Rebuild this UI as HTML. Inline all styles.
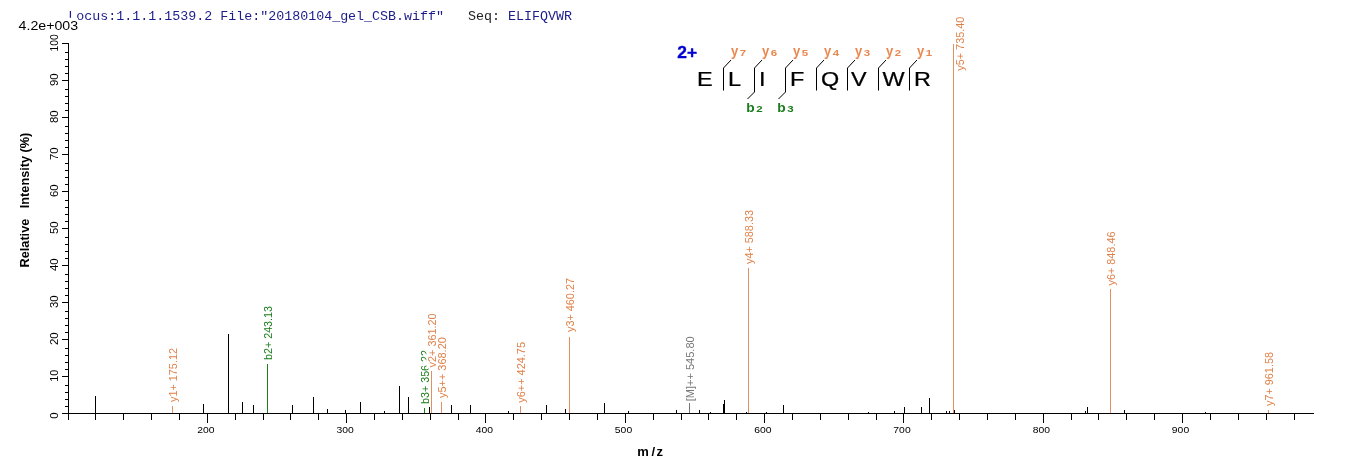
<!DOCTYPE html>
<html><head><meta charset="utf-8"><title>Spectrum</title>
<style>
html,body{margin:0;padding:0;background:#fff;}
body{width:1362px;height:473px;overflow:hidden;}
svg{display:block;}
.sans{font-family:"Liberation Sans",sans-serif;}
.mono{font-family:"Liberation Mono",monospace;font-size:13.33px;}
</style></head><body>
<svg width="1362" height="473" viewBox="0 0 1362 473">
<rect width="1362" height="473" fill="#fff"/>
<text x="68.2" y="19.8" class="mono" fill="#1c1c8c" xml:space="preserve" style="white-space:pre">Locus:1.1.1.1539.2 File:"20180104_gel_CSB.wiff"   <tspan fill="#222">Seq: </tspan>ELIFQVWR</text>
<rect x="14" y="17.8" width="64" height="14" fill="#fff"/>
<text x="18.6" y="30" class="sans" font-size="12" textLength="59.5" lengthAdjust="spacingAndGlyphs">4.2e+003</text>
<g shape-rendering="crispEdges" stroke="#000" stroke-width="1" fill="none">
<path d="M68.5 43 V414"/>
<path d="M62 413.5 H1314"/>
<path d="M62 413.5 H68"/>
<path d="M62 376.5 H68"/>
<path d="M65 385.5 H68"/>
<path d="M65 392.5 H68"/>
<path d="M65 399.5 H68"/>
<path d="M65 406.5 H68"/>
<path d="M62 339.5 H68"/>
<path d="M65 348.5 H68"/>
<path d="M65 355.5 H68"/>
<path d="M65 362.5 H68"/>
<path d="M65 369.5 H68"/>
<path d="M62 302.5 H68"/>
<path d="M65 311.5 H68"/>
<path d="M65 318.5 H68"/>
<path d="M65 325.5 H68"/>
<path d="M65 332.5 H68"/>
<path d="M62 265.5 H68"/>
<path d="M65 274.5 H68"/>
<path d="M65 281.5 H68"/>
<path d="M65 288.5 H68"/>
<path d="M65 295.5 H68"/>
<path d="M62 228.5 H68"/>
<path d="M65 237.5 H68"/>
<path d="M65 244.5 H68"/>
<path d="M65 251.5 H68"/>
<path d="M65 258.5 H68"/>
<path d="M62 191.5 H68"/>
<path d="M65 200.5 H68"/>
<path d="M65 207.5 H68"/>
<path d="M65 214.5 H68"/>
<path d="M65 221.5 H68"/>
<path d="M62 154.5 H68"/>
<path d="M65 163.5 H68"/>
<path d="M65 170.5 H68"/>
<path d="M65 177.5 H68"/>
<path d="M65 184.5 H68"/>
<path d="M62 117.5 H68"/>
<path d="M65 126.5 H68"/>
<path d="M65 133.5 H68"/>
<path d="M65 140.5 H68"/>
<path d="M65 147.5 H68"/>
<path d="M62 80.5 H68"/>
<path d="M65 89.5 H68"/>
<path d="M65 96.5 H68"/>
<path d="M65 103.5 H68"/>
<path d="M65 110.5 H68"/>
<path d="M62 43.5 H68"/>
<path d="M65 52.5 H68"/>
<path d="M65 59.5 H68"/>
<path d="M65 66.5 H68"/>
<path d="M65 73.5 H68"/>
<path d="M68.5 413 V420"/>
<path d="M95.5 413 V420"/>
<path d="M123.5 413 V420"/>
<path d="M151.5 413 V420"/>
<path d="M179.5 413 V420"/>
<path d="M207.5 413 V423"/>
<path d="M235.5 413 V420"/>
<path d="M263.5 413 V420"/>
<path d="M290.5 413 V420"/>
<path d="M318.5 413 V420"/>
<path d="M346.5 413 V423"/>
<path d="M374.5 413 V420"/>
<path d="M402.5 413 V420"/>
<path d="M430.5 413 V420"/>
<path d="M458.5 413 V420"/>
<path d="M485.5 413 V423"/>
<path d="M513.5 413 V420"/>
<path d="M541.5 413 V420"/>
<path d="M569.5 413 V420"/>
<path d="M597.5 413 V420"/>
<path d="M625.5 413 V423"/>
<path d="M653.5 413 V420"/>
<path d="M681.5 413 V420"/>
<path d="M708.5 413 V420"/>
<path d="M736.5 413 V420"/>
<path d="M764.5 413 V423"/>
<path d="M792.5 413 V420"/>
<path d="M820.5 413 V420"/>
<path d="M848.5 413 V420"/>
<path d="M876.5 413 V420"/>
<path d="M903.5 413 V423"/>
<path d="M931.5 413 V420"/>
<path d="M959.5 413 V420"/>
<path d="M987.5 413 V420"/>
<path d="M1015.5 413 V420"/>
<path d="M1043.5 413 V423"/>
<path d="M1071.5 413 V420"/>
<path d="M1098.5 413 V420"/>
<path d="M1126.5 413 V420"/>
<path d="M1154.5 413 V420"/>
<path d="M1182.5 413 V423"/>
<path d="M1210.5 413 V420"/>
<path d="M1238.5 413 V420"/>
<path d="M1266.5 413 V420"/>
<path d="M1294.5 413 V420"/>
</g>
<text class="sans" font-size="10" text-anchor="middle" transform="translate(57.5 415.6) rotate(-90) scale(1.14 1)">0</text>
<text class="sans" font-size="10" text-anchor="middle" transform="translate(57.5 375.7) rotate(-90) scale(1.08 1)">10</text>
<text class="sans" font-size="10" text-anchor="middle" transform="translate(57.5 338.7) rotate(-90) scale(1.14 1)">20</text>
<text class="sans" font-size="10" text-anchor="middle" transform="translate(57.5 301.7) rotate(-90) scale(1.14 1)">30</text>
<text class="sans" font-size="10" text-anchor="middle" transform="translate(57.5 264.7) rotate(-90) scale(1.14 1)">40</text>
<text class="sans" font-size="10" text-anchor="middle" transform="translate(57.5 227.7) rotate(-90) scale(1.14 1)">50</text>
<text class="sans" font-size="10" text-anchor="middle" transform="translate(57.5 190.7) rotate(-90) scale(1.14 1)">60</text>
<text class="sans" font-size="10" text-anchor="middle" transform="translate(57.5 153.7) rotate(-90) scale(1.14 1)">70</text>
<text class="sans" font-size="10" text-anchor="middle" transform="translate(57.5 116.7) rotate(-90) scale(1.14 1)">80</text>
<text class="sans" font-size="10" text-anchor="middle" transform="translate(57.5 79.7) rotate(-90) scale(1.14 1)">90</text>
<text class="sans" font-size="10" text-anchor="middle" transform="translate(57.5 42.8) rotate(-90) scale(1.03 1)">100</text>
<text class="sans" font-size="9.7" text-anchor="middle" transform="translate(205.8 432.8) scale(1.07 1)">200</text>
<text class="sans" font-size="9.7" text-anchor="middle" transform="translate(345.1 432.8) scale(1.07 1)">300</text>
<text class="sans" font-size="9.7" text-anchor="middle" transform="translate(484.3 432.8) scale(1.07 1)">400</text>
<text class="sans" font-size="9.7" text-anchor="middle" transform="translate(623.5 432.8) scale(1.07 1)">500</text>
<text class="sans" font-size="9.7" text-anchor="middle" transform="translate(762.8 432.8) scale(1.07 1)">600</text>
<text class="sans" font-size="9.7" text-anchor="middle" transform="translate(902.0 432.8) scale(1.07 1)">700</text>
<text class="sans" font-size="9.7" text-anchor="middle" transform="translate(1041.3 432.8) scale(1.07 1)">800</text>
<text class="sans" font-size="9.7" text-anchor="middle" transform="translate(1180.5 432.8) scale(1.07 1)">900</text>
<text class="sans" font-size="13" font-weight="bold" y="456"><tspan x="637.2">m</tspan><tspan x="651.4">/</tspan><tspan x="656.5">z</tspan></text>
<text class="sans" font-size="12.7" font-weight="bold" transform="translate(28.9 267.4) rotate(-90)" xml:space="preserve" style="white-space:pre">Relative   Intensity (%)</text>
<g shape-rendering="crispEdges" stroke-width="1" fill="none">
<path stroke="#000" d="M95.5 396 V413"/>
<path stroke="#000" d="M203.5 404 V413"/>
<path stroke="#000" d="M228.5 334 V413"/>
<path stroke="#000" d="M242.5 402 V413"/>
<path stroke="#000" d="M253.5 405 V413"/>
<path stroke="#000" d="M292.5 405 V413"/>
<path stroke="#000" d="M313.5 397 V413"/>
<path stroke="#000" d="M327.5 409 V413"/>
<path stroke="#000" d="M345.5 410 V413"/>
<path stroke="#000" d="M360.5 402 V413"/>
<path stroke="#000" d="M384.5 411 V413"/>
<path stroke="#000" d="M399.5 386 V413"/>
<path stroke="#000" d="M408.5 397 V413"/>
<path stroke="#000" d="M429.5 407 V413"/>
<path stroke="#000" d="M451.5 405 V413"/>
<path stroke="#000" d="M470.5 405 V413"/>
<path stroke="#000" d="M508.5 411 V413"/>
<path stroke="#000" d="M546.5 405 V413"/>
<path stroke="#000" d="M565.5 409 V413"/>
<path stroke="#000" d="M604.5 403 V413"/>
<path stroke="#000" d="M628.5 411 V413"/>
<path stroke="#000" d="M676.5 410 V413"/>
<path stroke="#000" d="M699.5 410 V413"/>
<path stroke="#000" d="M710.5 412 V413"/>
<path stroke="#000" d="M723.5 404 V413"/>
<path stroke="#000" d="M724.5 400 V413"/>
<path stroke="#000" d="M746.5 412 V413"/>
<path stroke="#000" d="M766.5 412 V413"/>
<path stroke="#000" d="M783.5 405 V413"/>
<path stroke="#000" d="M868.5 412 V413"/>
<path stroke="#000" d="M894.5 411 V413"/>
<path stroke="#000" d="M904.5 407 V413"/>
<path stroke="#000" d="M921.5 407 V413"/>
<path stroke="#000" d="M929.5 398 V413"/>
<path stroke="#000" d="M946.5 411 V413"/>
<path stroke="#000" d="M949.5 411 V413"/>
<path stroke="#000" d="M954.5 410 V413"/>
<path stroke="#000" d="M1085.5 411 V413"/>
<path stroke="#000" d="M1087.5 407 V413"/>
<path stroke="#000" d="M1124.5 410 V413"/>
<path stroke="#000" d="M1205.5 412 V413"/>
<path stroke="#e19062" d="M172.5 405.5 V413"/>
<path stroke="#1c7d1c" d="M267.5 364 V413"/>
<path stroke="#1c7d1c" d="M424.5 408 V413"/>
<path stroke="#e19062" d="M431.5 371 V413"/>
<path stroke="#e19062" d="M441.5 402 V413"/>
<path stroke="#e19062" d="M520.5 405.5 V413"/>
<path stroke="#e19062" d="M569.5 337 V413"/>
<path stroke="#777" d="M689.5 403 V413"/>
<path stroke="#e19062" d="M748.5 268 V413"/>
<path stroke="#e19062" d="M953.5 44 V413"/>
<path stroke="#e19062" d="M1110.5 289 V413"/>
<path stroke="#e19062" d="M1268.5 410 V413"/>
</g>
<rect x="167.0" y="347.0" width="12" height="56.2" fill="#fff"/>
<text class="sans" font-size="10.67" fill="#e08048" transform="translate(176.6 402) rotate(-90)" textLength="54" lengthAdjust="spacingAndGlyphs">y1+ 175.12</text>
<rect x="262.0" y="305.0" width="12" height="56.2" fill="#fff"/>
<text class="sans" font-size="10.67" fill="#1c7d1c" transform="translate(271.6 360) rotate(-90)" textLength="54" lengthAdjust="spacingAndGlyphs">b2+ 243.13</text>
<rect x="419.0" y="349.0" width="12" height="56.2" fill="#fff"/>
<text class="sans" font-size="10.67" fill="#1c7d1c" transform="translate(428.6 404) rotate(-90)" textLength="54" lengthAdjust="spacingAndGlyphs">b3+ 356.22</text>
<rect x="426.4" y="312.4" width="12" height="56.2" fill="#fff"/>
<text class="sans" font-size="10.67" fill="#e08048" transform="translate(436.0 367.4) rotate(-90)" textLength="54" lengthAdjust="spacingAndGlyphs">y2+ 361.20</text>
<rect x="436.0" y="336.2" width="12" height="63.0" fill="#fff"/>
<text class="sans" font-size="10.67" fill="#e08048" transform="translate(445.6 398) rotate(-90)" textLength="60.8" lengthAdjust="spacingAndGlyphs">y5++ 368.20</text>
<rect x="515.0" y="341.0" width="12" height="63.0" fill="#fff"/>
<text class="sans" font-size="10.67" fill="#e08048" transform="translate(524.6 402.8) rotate(-90)" textLength="60.8" lengthAdjust="spacingAndGlyphs">y6++ 424.75</text>
<rect x="564.0" y="277.0" width="12" height="56.2" fill="#fff"/>
<text class="sans" font-size="10.67" fill="#e08048" transform="translate(573.6 332) rotate(-90)" textLength="54" lengthAdjust="spacingAndGlyphs">y3+ 460.27</text>
<rect x="684.0" y="335.3" width="12" height="67.2" fill="#fff"/>
<text class="sans" font-size="10.67" fill="#777" transform="translate(693.6 401.3) rotate(-90)" textLength="65" lengthAdjust="spacingAndGlyphs">[M]++ 545.80</text>
<rect x="743.0" y="209.0" width="12" height="56.2" fill="#fff"/>
<text class="sans" font-size="10.67" fill="#e08048" transform="translate(752.6 264) rotate(-90)" textLength="54" lengthAdjust="spacingAndGlyphs">y4+ 588.33</text>
<rect x="954.2" y="15.7" width="12" height="56.2" fill="#fff"/>
<text class="sans" font-size="10.67" fill="#e08048" transform="translate(963.8 70.7) rotate(-90)" textLength="54" lengthAdjust="spacingAndGlyphs">y5+ 735.40</text>
<rect x="1105.0" y="230.5" width="12" height="56.2" fill="#fff"/>
<text class="sans" font-size="10.67" fill="#e08048" transform="translate(1114.6 285.5) rotate(-90)" textLength="54" lengthAdjust="spacingAndGlyphs">y6+ 848.46</text>
<rect x="1263.0" y="351.0" width="12" height="56.2" fill="#fff"/>
<text class="sans" font-size="10.67" fill="#e08048" transform="translate(1272.6 406) rotate(-90)" textLength="54" lengthAdjust="spacingAndGlyphs">y7+ 961.58</text>
<text class="sans" font-size="17" font-weight="bold" fill="#0000d2" stroke="#0000d2" stroke-width="0.35" x="677.3" y="58.2" textLength="19.8" lengthAdjust="spacingAndGlyphs">2+</text>
<text class="sans" font-size="19.5" stroke="#000" stroke-width="0.25" transform="translate(697 86) scale(1.2 1)">E</text>
<text class="sans" font-size="19.5" stroke="#000" stroke-width="0.25" transform="translate(728 86) scale(1.2 1)">L</text>
<text class="sans" font-size="19.5" stroke="#000" stroke-width="0.25" transform="translate(759 86) scale(1.2 1)">I</text>
<text class="sans" font-size="19.5" stroke="#000" stroke-width="0.25" transform="translate(790 86) scale(1.2 1)">F</text>
<text class="sans" font-size="19.5" stroke="#000" stroke-width="0.25" transform="translate(821 86) scale(1.2 1)">Q</text>
<text class="sans" font-size="19.5" stroke="#000" stroke-width="0.25" transform="translate(851 86) scale(1.2 1)">V</text>
<text class="sans" font-size="19.5" stroke="#000" stroke-width="0.25" transform="translate(882.5 86) scale(1.2 1)">W</text>
<text class="sans" font-size="19.5" stroke="#000" stroke-width="0.25" transform="translate(914 86) scale(1.2 1)">R</text>
<g stroke="#000" stroke-width="1" fill="none">
<path d="M731 60 L723.5 68 V90.5"/>
<path d="M762 60 L754.5 68 V92 L747.5 99"/>
<path d="M793 60 L785.5 68 V92 L778.5 99"/>
<path d="M824 60 L816.5 68 V90.5"/>
<path d="M855 60 L847.5 68 V90.5"/>
<path d="M886 60 L878.5 68 V90.5"/>
<path d="M917 60 L909.5 68 V90.5"/>
</g>
<text class="sans" font-weight="bold" fill="#ea8850" font-size="14" transform="translate(731.1 55.5) scale(0.93 1)">y</text><text class="sans" font-weight="bold" fill="#ea8850" font-size="9.3" transform="translate(739.8 55.7) scale(1.24 1)">7</text>
<text class="sans" font-weight="bold" fill="#ea8850" font-size="14" transform="translate(762.1 55.5) scale(0.93 1)">y</text><text class="sans" font-weight="bold" fill="#ea8850" font-size="9.3" transform="translate(770.8 55.7) scale(1.24 1)">6</text>
<text class="sans" font-weight="bold" fill="#ea8850" font-size="14" transform="translate(793.1 55.5) scale(0.93 1)">y</text><text class="sans" font-weight="bold" fill="#ea8850" font-size="9.3" transform="translate(801.8 55.7) scale(1.24 1)">5</text>
<text class="sans" font-weight="bold" fill="#ea8850" font-size="14" transform="translate(824.1 55.5) scale(0.93 1)">y</text><text class="sans" font-weight="bold" fill="#ea8850" font-size="9.3" transform="translate(832.8 55.7) scale(1.24 1)">4</text>
<text class="sans" font-weight="bold" fill="#ea8850" font-size="14" transform="translate(855.1 55.5) scale(0.93 1)">y</text><text class="sans" font-weight="bold" fill="#ea8850" font-size="9.3" transform="translate(863.8 55.7) scale(1.24 1)">3</text>
<text class="sans" font-weight="bold" fill="#ea8850" font-size="14" transform="translate(886.1 55.5) scale(0.93 1)">y</text><text class="sans" font-weight="bold" fill="#ea8850" font-size="9.3" transform="translate(894.8 55.7) scale(1.24 1)">2</text>
<text class="sans" font-weight="bold" fill="#ea8850" font-size="14" transform="translate(917.1 55.5) scale(0.93 1)">y</text><text class="sans" font-weight="bold" fill="#ea8850" font-size="9.3" transform="translate(925.8 55.7) scale(1.24 1)">1</text>
<text class="sans" font-weight="bold" fill="#1c7d1c" font-size="13" transform="translate(746.2 112) scale(1.06 1)">b</text><text class="sans" font-weight="bold" fill="#1c7d1c" font-size="9.3" transform="translate(756.3000000000001 112.1) scale(1.24 1)">2</text>
<text class="sans" font-weight="bold" fill="#1c7d1c" font-size="13" transform="translate(777.2 112) scale(1.06 1)">b</text><text class="sans" font-weight="bold" fill="#1c7d1c" font-size="9.3" transform="translate(787.3000000000001 112.1) scale(1.24 1)">3</text>
</svg>
</body></html>
